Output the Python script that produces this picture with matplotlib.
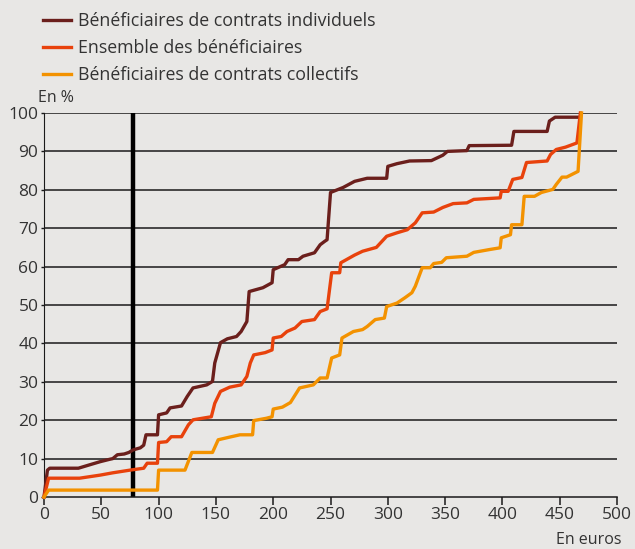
import matplotlib.pyplot as plt

# courbes cumulées (x en euros, y en %)
indiv_x = [0, 3, 5, 30, 40, 49, 57, 60, 64, 70, 74, 78, 84, 87, 89, 99, 100, 107, 110, 120,
           125, 130, 142, 147, 149, 154, 160, 168, 172, 177, 179, 185, 191, 199, 200, 210,
           213, 222, 226, 236, 241, 245, 247, 250, 261, 271, 282, 299, 300, 308, 319, 338,
           348, 352, 369, 371, 408, 410, 439, 441, 446, 466]
indiv_y = [0, 7.0, 7.5, 7.5, 8.4, 9.2, 9.8, 10.0, 11.0, 11.2, 11.6, 12.3, 12.8, 13.5, 16.2,
           16.2, 21.4, 21.9, 23.2, 23.7, 26.2, 28.4, 29.2, 30.1, 34.9, 40.2, 41.2, 41.8,
           43.1, 45.7, 53.5, 54.0, 54.5, 55.8, 59.2, 60.5, 61.8, 61.8, 62.7, 63.6, 65.7,
           66.6, 67.0, 79.3, 80.6, 82.2, 83.0, 83.0, 86.1, 86.8, 87.5, 87.6, 89.0, 90.0,
           90.2, 91.5, 91.6, 95.2, 95.2, 97.9, 98.9, 98.9]

ens_x = [0, 4, 31, 49, 60, 75, 87, 90, 99, 100, 107, 111, 120, 126, 130, 146, 149, 154,
         162, 172, 177, 180, 183, 193, 199, 200, 207, 212, 219, 225, 236, 241, 247, 251,
         258, 259, 271, 278, 290, 299, 308, 317, 324, 330, 340, 348, 357, 369, 375, 398,
         399, 405, 409, 417, 421, 439, 442, 447, 455, 465, 468]
ens_y = [0, 4.9, 4.9, 5.7, 6.3, 7.0, 7.5, 8.8, 8.8, 14.2, 14.4, 15.7, 15.7, 18.8, 20.1,
         20.9, 24.4, 27.5, 28.6, 29.2, 31.4, 34.9, 37.0, 37.6, 38.3, 41.4, 41.8, 43.1,
         44.0, 45.7, 46.2, 48.3, 49.0, 58.4, 58.4, 61.0, 63.0, 64.0, 65.0, 67.9, 68.8,
         69.6, 71.4, 74.0, 74.2, 75.4, 76.4, 76.6, 77.5, 77.9, 79.6, 79.6, 82.7, 83.2,
         87.1, 87.5, 89.2, 90.5, 91.1, 92.2, 100]

coll_x = [0, 4, 99, 100, 123, 129, 147, 152, 162, 171, 182, 183, 194, 199, 200, 208, 215,
          223, 235, 241, 247, 251, 258, 260, 270, 278, 282, 289, 297, 299, 308, 315, 321,
          324, 330, 337, 340, 347, 351, 369, 375, 388, 398, 399, 407, 408, 417, 419, 428,
          434, 444, 447, 452, 456, 466, 469]
coll_y = [0, 1.8, 1.8, 7.0, 7.0, 11.6, 11.6, 14.9, 15.6, 16.2, 16.2, 19.9, 20.5, 20.9,
          22.9, 23.4, 24.6, 28.4, 29.2, 31.0, 31.0, 36.2, 37.0, 41.4, 43.1, 43.6, 44.4,
          46.2, 46.6, 49.6, 50.5, 51.9, 53.2, 54.9, 59.7, 59.7, 60.8, 61.1, 62.3, 62.7,
          63.7, 64.4, 64.9, 67.5, 68.3, 70.9, 70.9, 78.3, 78.3, 79.3, 80.1, 81.4, 83.3,
          83.3, 84.8, 100]

seuil = 78

bg = '#e8e7e5'
txt = '#333333'
plt.rcParams['font.family'] = ['Open Sans', 'DejaVu Sans']

fig = plt.figure(figsize=(6.35, 5.49), dpi=100, facecolor=bg)
ax = fig.add_axes([0.0693, 0.0947, 0.9024, 0.6995], facecolor=bg)

for y in range(10, 101, 10):
    ax.axhline(y, color='#1a1a1a', lw=1.1, zorder=1)
ax.axvline(seuil, color='black', lw=3.2, zorder=2)

ax.plot(indiv_x, indiv_y, color='#6b1f1c', lw=2.4, label='Bénéficiaires de contrats individuels', zorder=3, clip_on=False)
ax.plot(ens_x, ens_y, color='#e8420c', lw=2.4, label='Ensemble des bénéficiaires', zorder=3, clip_on=False)
ax.plot(coll_x, coll_y, color='#f39200', lw=2.4, label='Bénéficiaires de contrats collectifs', zorder=4, clip_on=False)

ax.set_xlim(0, 500)
ax.set_ylim(0, 100)
ax.set_xticks(range(0, 501, 50))
ax.set_yticks(range(0, 101, 10))
for s in ['top', 'right']:
    ax.spines[s].set_visible(False)
ax.spines['left'].set_color('#1a1a1a')
ax.spines['bottom'].set_color('#1a1a1a')
ax.spines['bottom'].set_linewidth(1.1)
ax.tick_params(axis='x', length=6, width=1.1, color='#1a1a1a', labelsize=12.5, labelcolor=txt, pad=1)
ax.tick_params(axis='y', length=2, width=1, color='#1a1a1a', labelsize=12.5, labelcolor=txt, pad=2)

fig.text(38 / 635, 1 - 98 / 549, 'En %', fontsize=11.5, color=txt, va='center', ha='left')
fig.text(622 / 635, 1 - 540 / 549, 'En euros', fontsize=11.5, color=txt, va='center', ha='right')

fig.legend(loc='upper left', bbox_to_anchor=(43 / 635, 1 - 12 / 549), frameon=False,
           fontsize=12.8, labelcolor=txt, handlelength=1.55, handletextpad=0.4,
           labelspacing=0.5, borderpad=0, borderaxespad=0)

fig.savefig('out.png', dpi=100, facecolor=bg)
